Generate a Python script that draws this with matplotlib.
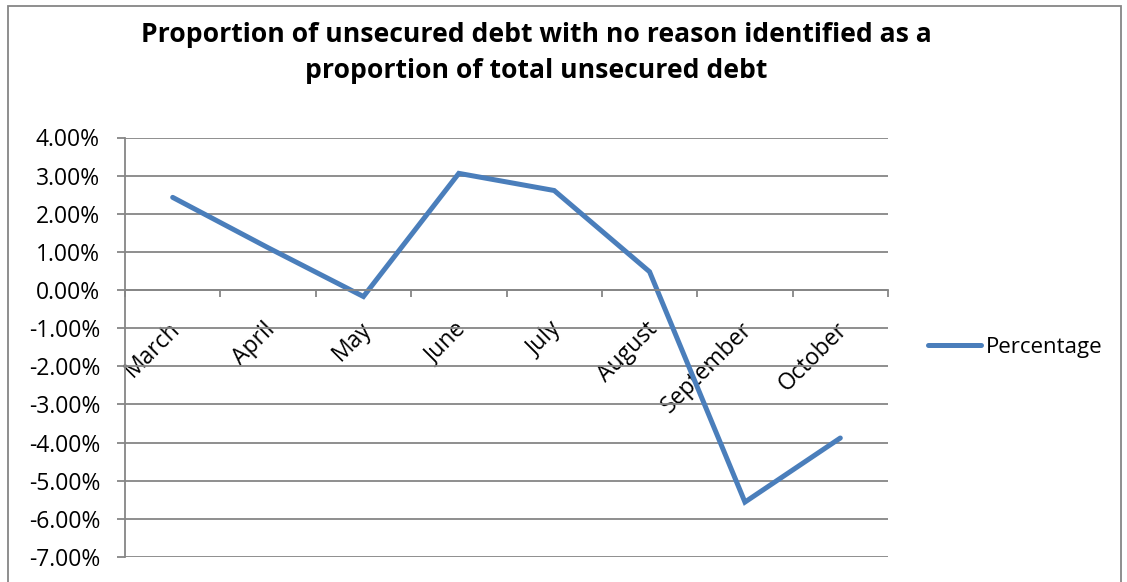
import numpy as np
import matplotlib
matplotlib.use('Agg')
import matplotlib.pyplot as plt
from matplotlib.patches import Rectangle
from matplotlib.ticker import FuncFormatter, FixedLocator
from matplotlib.transforms import ScaledTranslation

plt.rcParams['font.family'] = ['Open Sans', 'DejaVu Sans']

months = ['March', 'April', 'May', 'June', 'July', 'August', 'September', 'October']
pct = [2.43, 1.11, -0.17, 3.06, 2.61, 0.48, -5.56, -3.88]
series_name = 'Percentage'
title = ('Proportion of unsecured debt with no reason identified as a\n'
         'proportion of total unsecured debt')

W, H = 1127, 582
fig = plt.figure(figsize=(W / 100, H / 100), dpi=100)
ax = fig.add_axes([125 / W, (H - 557) / H, (888 - 125) / W, (557 - 137.5) / H])

grey = '#868686'
blue = '#4A7EBB'

x = np.arange(len(months)) + 0.5
line, = ax.plot(x, pct, color=blue, linewidth=3.6, solid_joinstyle='miter',
                solid_capstyle='round', label=series_name)

ax.set_xlim(0, len(months))
ax.set_ylim(-7, 4)

# y axis: gridlines every 1%
ax.set_yticks(np.arange(-7, 5, 1))
ax.yaxis.set_major_formatter(FuncFormatter(lambda v, p: '{:.2f}%'.format(v)))
ax.yaxis.grid(True, color=grey, linewidth=1.3)
ax.set_axisbelow(True)
ax.tick_params(axis='y', length=6, width=1.3, color=grey, pad=12,
               labelsize=16.5, labelcolor='black')

# x axis crosses at zero, tick marks between categories
for s in ['top', 'right']:
    ax.spines[s].set_visible(False)
ax.spines['bottom'].set_position(('data', 0))
ax.spines['bottom'].set_color(grey)
ax.spines['bottom'].set_linewidth(1.3)
ax.spines['left'].set_color(grey)
ax.spines['left'].set_linewidth(1.3)

ax.xaxis.set_minor_locator(FixedLocator(np.arange(len(months) + 1)))
ax.set_xticks(x)
ax.set_xticklabels(months)
ax.tick_params(axis='x', which='minor', length=5, width=1.3, color=grey, direction='out')
ax.tick_params(axis='x', which='major', length=0, pad=26, labelsize=16.5)
shift = ScaledTranslation(4 / 100, 0, fig.dpi_scale_trans)
for lab in ax.get_xticklabels():
    lab.set_rotation(45)
    lab.set_ha('right')
    lab.set_va('center')
    lab.set_rotation_mode('anchor')
    lab.set_transform(lab.get_transform() + shift)

fig.text(536 / W, 1 - 53 / H, title, ha='center', va='center',
         fontsize=19.1, fontweight='bold', linespacing=1.55)

fig.legend(handles=[line], loc='center left',
           bbox_to_anchor=(928 / W, 1 - 347 / H), frameon=False,
           borderpad=0, borderaxespad=0, handlelength=2.4, handletextpad=0.2,
           fontsize=16)

fig.patches.append(Rectangle((8 / W, -0.1), (1121 - 8) / W, 1.1 - 6 / H,
                             transform=fig.transFigure, fill=False,
                             edgecolor=grey, linewidth=1.3, clip_on=False))

fig.savefig('out.png', dpi=100)
